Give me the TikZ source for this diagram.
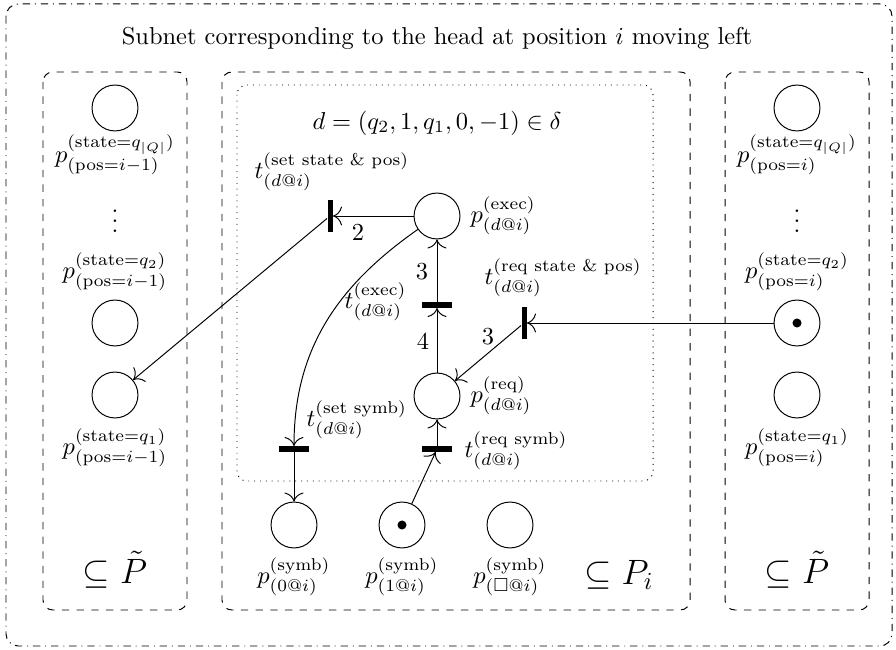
\documentclass[tikz,border=0pt]{standalone}
\usepackage{amsfonts,amsmath,amssymb}
\usepackage{tikz}
\usetikzlibrary{arrows.meta}
\usetikzlibrary{calc}
\tikzset{
    place/.style={circle, draw, minimum size=0.66cm, inner sep=0pt},
    htrans/.style={rectangle, fill=black, minimum width=0.43cm, minimum height=0.072cm, inner sep=0pt},
    vtrans/.style={rectangle, fill=black, minimum width=0.072cm, minimum height=0.46cm, inner sep=0pt},
    region/.style={draw, dashed, rounded corners=4pt},
}
\newcommand{\token}[1]{\fill (#1) circle (0.065cm);}
\newcommand{\drawarc}{\draw[-{To[length=1.3mm]}]}

\begin{document}
\begin{tikzpicture}[x=0.01438cm, y=-0.01438cm]
    \useasboundingbox (0,0) rectangle (896,650);

    % Draw regions
    \draw[dashdotted, rounded corners=5pt] (6,4) rectangle (892,646);
    \draw[region] (43,72) rectangle (187,610);
    \draw[region] (222,72) rectangle (690,610);
    \draw[region] (725,72) rectangle (869,610);
    \draw[dotted, rounded corners=4pt] (237,85) rectangle (653,481);

    \node (title) at (437,38) {Subnet corresponding to the head at position $i$ moving left};
    \node (delta) at (437,123) {$d = (q_2, 1, q_1, 0, -1) \in \delta$};

    % Draw places
    \node[place] (lQ) at (115,108) {};
    \node[place] (lq2) at (115,323) {};
    \node[place] (lq1) at (115,395) {};
    \node[place] (rQ) at (797,108) {};
    \node[place] (rq2) at (797,323) {};
    \node[place] (rq1) at (797,395) {};
    \node[place] (pexec) at (437,216) {};
    \node[place] (preq) at (437,396) {};
    \node[place] (s0) at (294,525) {};
    \node[place] (s1) at (402,525) {};
    \node[place] (sb) at (510,525) {};
    \token{rq2}
    \token{s1}

    % Draw transitions
    \node[vtrans] (tset) at (330,216) {};
    \node[htrans] (texec) at (437,305) {};
    \node[vtrans] (treq) at (524,323) {};
    \node[htrans] (tsetsymb) at (294,449) {};
    \node[htrans] (treqsymb) at (437,449) {};

    % Draw arcs
    \drawarc (pexec) -- (tset);
    \drawarc (texec) -- (pexec);
    \drawarc (preq) -- (texec);
    \drawarc (rq2) -- (treq);
    \drawarc (treq) -- (preq);
    \drawarc (treqsymb) -- (preq);
    \drawarc (s1) -- (treqsymb);
    \drawarc (tsetsymb) -- (s0);
    \drawarc (pexec) to[out=215, in=90] (tsetsymb);
    \drawarc (tset) -- (lq1);

    \node (w2) at (358,233) {$2$};
    \node (w3a) at (422,272) {$3$};
    \node (w4) at (423,342) {$4$};
    \node (w3b) at (488,337) {$3$};

    % Labels of places
    \node (lQlbl) at (115,155) {$p^{(\text{state}=q_{|Q|})}_{(\text{pos}=i-1)}$};
    \node (ldots) at (115,214) {$\vdots$};
    \node (lq2lbl) at (115,272) {$p^{(\text{state}=q_2)}_{(\text{pos}=i-1)}$};
    \node (lq1lbl) at (115,448) {$p^{(\text{state}=q_1)}_{(\text{pos}=i-1)}$};
    \node (rQlbl) at (797,155) {$p^{(\text{state}=q_{|Q|})}_{(\text{pos}=i)}$};
    \node (rdots) at (797,214) {$\vdots$};
    \node (rq2lbl) at (797,272) {$p^{(\text{state}=q_2)}_{(\text{pos}=i)}$};
    \node (rq1lbl) at (797,448) {$p^{(\text{state}=q_1)}_{(\text{pos}=i)}$};
    \node[anchor=west] (pexeclbl) at (462,216) {$p^{(\text{exec})}_{(d@i)}$};
    \node[anchor=west] (preqlbl) at (462,396) {$p^{(\text{req})}_{(d@i)}$};
    \node (s0lbl) at (294,577) {$p^{(\text{symb})}_{(0@i)}$};
    \node (s1lbl) at (402,577) {$p^{(\text{symb})}_{(1@i)}$};
    \node (sblbl) at (510,577) {$p^{(\text{symb})}_{(\square@i)}$};

    % Labels of transitions
    \node[anchor=west] (tsetlbl) at (246,172) {$t^{(\text{set state \& pos})}_{(d@i)}$};
    \node[anchor=east] (texeclbl) at (415,302) {$t^{(\text{exec})}_{(d@i)}$};
    \node[anchor=west] (treqlbl) at (476,278) {$t^{(\text{req state \& pos})}_{(d@i)}$};
    \node[anchor=west] (tsetsymblbl) at (298,420) {$t^{(\text{set symb})}_{(d@i)}$};
    \node[anchor=west] (treqsymblbl) at (456,451) {$t^{(\text{req symb})}_{(d@i)}$};

    \node (lsub) at (115,570) {\Large $\subseteq \tilde{P}$};
    \node (msub) at (619,575) {\Large $\subseteq P_i$};
    \node (rsub) at (797,570) {\Large $\subseteq \tilde{P}$};
\end{tikzpicture}
\end{document}
